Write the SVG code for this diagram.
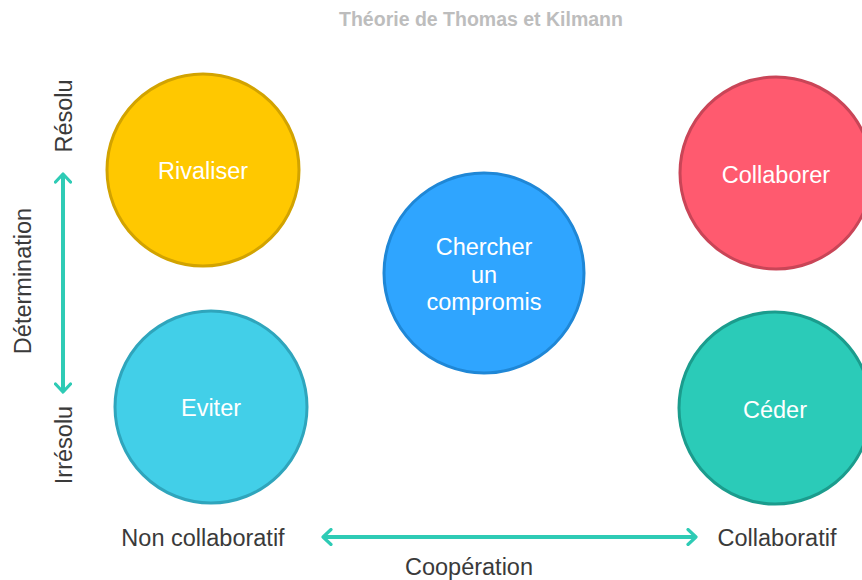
<svg xmlns="http://www.w3.org/2000/svg" width="862" height="580" viewBox="0 0 862 580">
<defs>
<marker id="chev" viewBox="0 0 12 18" refX="10" refY="9" markerWidth="12" markerHeight="18" markerUnits="userSpaceOnUse" orient="auto-start-reverse">
<path d="M2,1.5 L10,9 L2,16.5" fill="none" stroke="#2ECBB5" stroke-width="3.2" stroke-linecap="round" stroke-linejoin="round"/>
</marker>
</defs>
<style>
.node text{font-family:"Liberation Sans",Arial,sans-serif;font-size:23.5px;fill:#ffffff;text-anchor:middle}
.lbl{font-family:"Liberation Sans",Arial,sans-serif;font-size:23.5px;fill:#3a3a3a;text-anchor:middle}
.title{font-family:"Liberation Sans",Arial,sans-serif;font-size:19.5px;font-weight:bold;fill:#BDBDBD;text-anchor:middle}
.axis{stroke:#2ECBB5;stroke-width:4;fill:none;marker-start:url(#chev);marker-end:url(#chev)}
circle{stroke-width:3}
</style>
<rect width="862" height="580" fill="#ffffff"/>
<text class="title" x="481" y="26">Théorie de Thomas et Kilmann</text>
<g id="rivaliser" class="node"><circle cx="203" cy="170" r="96" fill="#FFC800" stroke="#D2A300"/><text x="203" y="179">Rivaliser</text></g>
<g id="eviter" class="node"><circle cx="211" cy="407" r="96" fill="#42CFE8" stroke="#2FA5BC"/><text x="211" y="416">Eviter</text></g>
<g id="compromis" class="node"><circle cx="484" cy="273" r="100" fill="#2FA5FF" stroke="#1F87D6"/><text x="484" y="255">Chercher</text><text x="484" y="283">un</text><text x="484" y="310">compromis</text></g>
<g id="collaborer" class="node"><circle cx="776" cy="173" r="96" fill="#FF5A6F" stroke="#C94557"/><text x="776" y="183">Collaborer</text></g>
<g id="ceder" class="node"><circle cx="775" cy="408" r="96" fill="#2BCBB8" stroke="#1B9C8D"/><text x="775" y="418">Céder</text></g>
<g id="connectors">
<path class="axis" d="M63,174 L63,392"/>
<path class="axis" d="M323,537 L696,537"/>
</g>
<text class="lbl" transform="translate(72,116) rotate(-90)">Résolu</text>
<text class="lbl" transform="translate(72,445) rotate(-90)">Irrésolu</text>
<text class="lbl" transform="translate(31,281) rotate(-90)">Détermination</text>
<text class="lbl" x="203" y="546">Non collaboratif</text>
<text class="lbl" x="777" y="546">Collaboratif</text>
<text class="lbl" x="469" y="575">Coopération</text>
</svg>
